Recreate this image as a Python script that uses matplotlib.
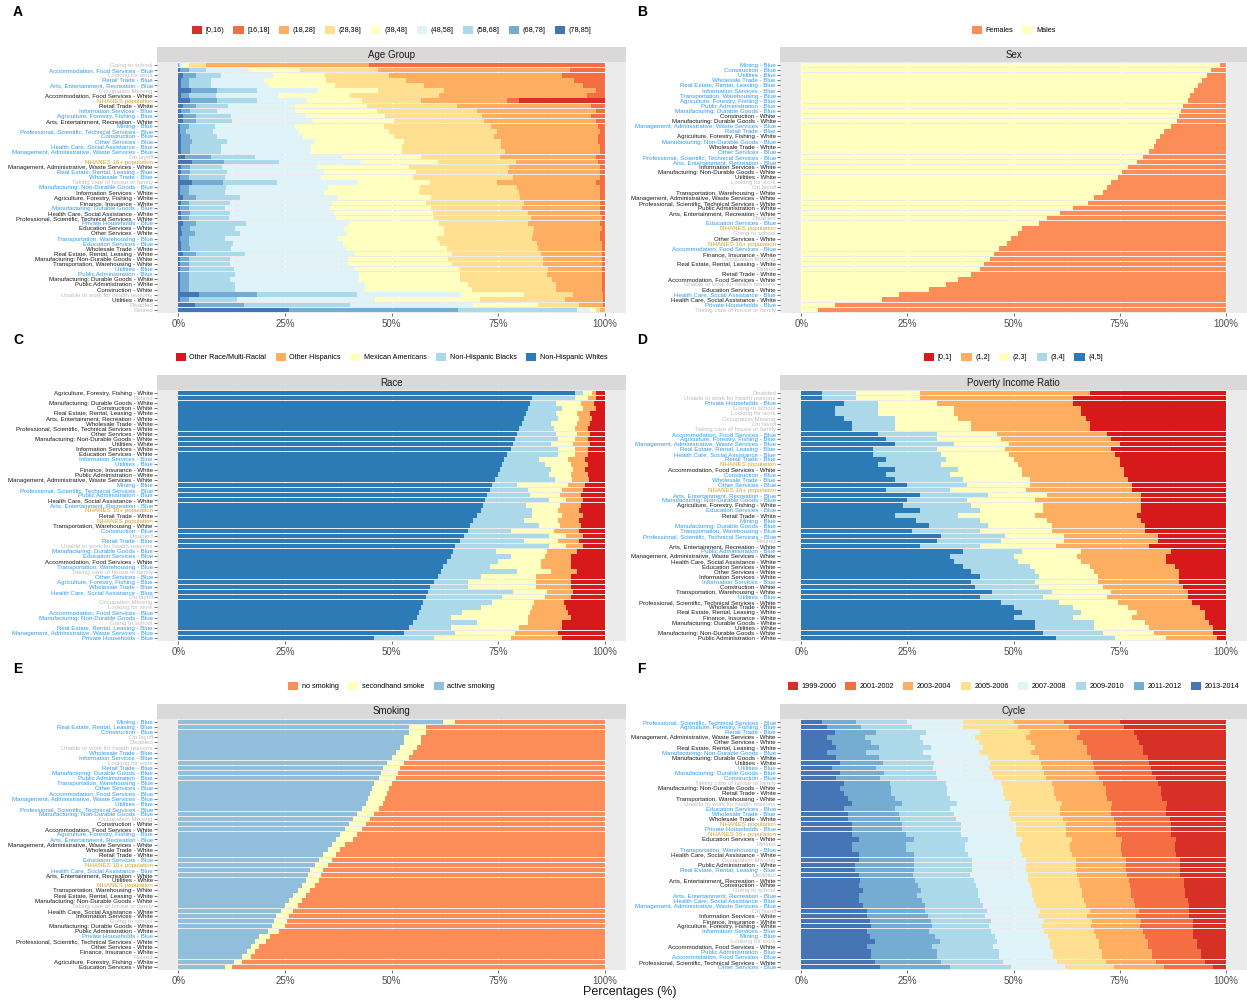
import numpy as np
import matplotlib
matplotlib.use("Agg")
import matplotlib.pyplot as plt
from matplotlib.patches import Patch

plt.rcParams['font.family'] = ['Liberation Sans', 'DejaVu Sans']

W, H = 1247, 1001

# ---------------- Panel A: Age Group ----------------
labels_A = ["Going to school", "Accommodation, Food Services - Blue", "Looking for work", "Retail Trade - Blue",
            "Arts, Entertainment, Recreation - Blue", "Occupation Missing", "Accommodation, Food Services - White",
            "NHANES population", "Retail Trade - White", "Information Services - Blue",
            "Agriculture, Forestry, Fishing - Blue", "Arts, Entertainment, Recreation - White", "Mining - Blue",
            "Professional, Scientific, Technical Services - Blue", "Construction - Blue", "Other Services - Blue",
            "Health Care, Social Assistance - Blue", "Management, Administrative, Waste Services - Blue", "On layoff",
            "NHANES 16+ population", "Management, Administrative, Waste Services - White",
            "Real Estate, Rental, Leasing - Blue", "Wholesale Trade - Blue", "Taking care of house or family",
            "Manufacturing: Non-Durable Goods - Blue", "Information Services - White",
            "Agriculture, Forestry, Fishing - White", "Finance, Insurance - White",
            "Manufacturing: Durable Goods - Blue", "Health Care, Social Assistance - White",
            "Professional, Scientific, Technical Services - White", "Private Households - Blue",
            "Education Services - White", "Other Services - White", "Transportation, Warehousing - Blue",
            "Education Services - Blue", "Wholesale Trade - White", "Real Estate, Rental, Leasing - White",
            "Manufacturing: Non-Durable Goods - White", "Transportation, Warehousing - White", "Utilities - Blue",
            "Public Administration - Blue", "Manufacturing: Durable Goods - White", "Public Administration - White",
            "Construction - White", "Unable to work for health reasons", "Utilities - White", "Disabled", "Retired"]
legend_A = ["[0,16)", "[16,18]", "(18,28]", "(28,38]", "(38,48]", "(48,58]", "(58,68]", "(68,78]", "(78,85]"]
age_0_16 = [0, 0, 0, 0, 0, 0, 0, 22, 0, 0, 0, 0, 0, 0, 0, 0, 0, 0, 0, 0, 0, 0, 0, 0, 0, 0, 0, 0, 0, 0, 0, 0, 0, 0, 0,
            0, 0, 0, 0, 0, 0, 0, 0, 0, 0, 0, 0, 0, 0]
age_16_18 = [55, 8, 10, 7, 5, 2, 4, 3, 3, 2, 3, 2, 1.5, 1, 1.5, 1.5, 1, 1, 2, 1.5, 1, 1, 1, 2, 1, 1, 1, 1, 1, 1, 0.5,
             1, 0.5, 1, 1, 0.5, 0.5, 0.5, 0.5, 0.5, 0.5, 0.5, 0.5, 0.5, 0.5, 0.5, 0.3, 0.3, 0]
age_18_28 = [38, 45, 40, 38, 36, 35, 33, 22, 30, 26, 25, 25, 24, 23, 23, 22, 22, 21, 22, 18, 20, 20, 19, 22, 18, 18,
             18, 17, 17, 16, 16, 16, 15, 15, 15, 15, 14, 14, 13, 13, 12, 12, 11, 10, 10, 7, 8, 6, 1]
age_28_38 = [4, 18, 15, 18, 20, 15, 20, 15, 20, 22, 22, 20, 24, 24, 22, 22, 22, 23, 18, 17, 22, 20, 22, 15, 21, 22,
             20, 22, 20, 21, 22, 20, 20, 20, 21, 22, 20, 20, 21, 20, 20, 19, 20, 19, 18, 12, 18, 10, 1]
age_38_48 = [1.5, 12, 12, 14, 15, 14, 16, 14, 16, 18, 18, 18, 20, 20, 20, 20, 20, 20, 18, 17, 20, 20, 20, 16, 20, 21,
             21, 21, 22, 22, 22, 20, 22, 22, 22, 22, 22, 22, 22, 23, 23, 22, 22, 22, 23, 15, 22, 16, 1.5]
age_48_58 = [0.5, 10, 12, 12, 13, 14, 14, 13, 15, 17, 17, 18, 18, 19, 19, 20, 20, 20, 20, 18, 21, 21, 21, 18, 22, 22,
             22, 23, 23, 23, 24, 23, 24, 24, 25, 25, 25, 25, 26, 26, 27, 27, 28, 28, 28, 25, 29, 30, 3]
age_58_68 = [0.3, 4, 6, 5, 5, 9, 6, 10, 7, 6, 8, 8, 6, 6, 6, 8, 7, 7, 10, 12, 7, 8, 8, 12, 8, 8, 10, 9, 8, 9, 9, 11,
             10, 10, 8, 10, 9, 11, 9, 9, 10, 10, 9, 10, 10, 24, 10, 26, 28]
age_68_78 = [0.2, 2, 3, 2, 2, 6, 2, 7, 3, 2, 3, 3, 2, 1.5, 2, 2.5, 2, 2, 6, 7, 2, 2, 2, 7, 2, 2, 3, 2, 2, 2, 2, 3, 2, 3,
             2, 2, 2, 3, 2, 2, 2, 2, 2, 2, 2, 14, 2, 12, 40]
age_78_85 = [0, 0.5, 1, 0.5, 0.5, 3, 0.5, 3, 1, 0.5, 1, 1, 0.3, 0.3, 0.5, 0.5, 0.5, 0.5, 1.5, 3, 0.5, 0.5, 0.3, 3, 0.3,
             0.3, 1, 0.5, 0.3, 0.5, 0.5, 1, 0.5, 0.8, 0.3, 0.5, 0.5, 1, 0.3, 0.3, 0.3, 0.3, 0.3, 0.3, 0.3, 5, 0.3, 4,
             26]

# ---------------- Panel B: Sex ----------------
labels_B = ["Mining - Blue", "Construction - Blue", "Utilities - Blue", "Wholesale Trade - Blue",
            "Real Estate, Rental, Leasing - Blue", "Information Services - Blue", "Transportation, Warehousing - Blue",
            "Agriculture, Forestry, Fishing - Blue", "Public Administration - Blue",
            "Manufacturing: Durable Goods - Blue", "Construction - White", "Manufacturing: Durable Goods - White",
            "Management, Administrative, Waste Services - Blue", "Retail Trade - Blue",
            "Agriculture, Forestry, Fishing - White", "Manufacturing: Non-Durable Goods - Blue",
            "Wholesale Trade - White", "Other Services - Blue", "Professional, Scientific, Technical Services - Blue",
            "Arts, Entertainment, Recreation - Blue", "Information Services - White",
            "Manufacturing: Non-Durable Goods - White", "Utilities - White", "Looking for work", "On layoff",
            "Transportation, Warehousing - White", "Management, Administrative, Waste Services - White",
            "Professional, Scientific, Technical Services - White", "Public Administration - White",
            "Arts, Entertainment, Recreation - White", "Disabled", "Education Services - Blue", "NHANES population",
            "Going to school", "Other Services - White", "NHANES 16+ population",
            "Accommodation, Food Services - Blue", "Finance, Insurance - White", "Occupation Missing",
            "Real Estate, Rental, Leasing - White", "Retired", "Retail Trade - White",
            "Accommodation, Food Services - White", "Unable to work for health reasons", "Education Services - White",
            "Health Care, Social Assistance - Blue", "Health Care, Social Assistance - White",
            "Private Households - Blue", "Taking care of house or family"]
legend_B = ["Females", "Males"]
sex_females = [1.4, 3.5, 4.5, 5.5, 6.5, 7.5, 8.5, 9, 10, 10.5, 11, 11.5, 13, 14.5, 15.5, 16.5, 17, 18, 19.5, 21, 23,
               24.5, 25.5, 27, 28, 29, 31, 32.5, 36, 39, 42, 44, 48, 49, 50.5, 51.5, 53.5, 54.5, 55.5, 57, 58, 60, 63,
               66, 70, 77, 81, 92, 96]
sex_males = [98.6, 96.5, 95.5, 94.5, 93.5, 92.5, 91.5, 91, 90, 89.5, 89, 88.5, 87, 85.5, 84.5, 83.5, 83, 82, 80.5,
             79, 77, 75.5, 74.5, 73, 72, 71, 69, 67.5, 64, 61, 58, 56, 52, 51, 49.5, 48.5, 46.5, 45.5, 44.5, 43, 42,
             40, 37, 34, 30, 23, 19, 8, 4]

# ---------------- Panel C: Race ----------------
labels_C = ["Agriculture, Forestry, Fishing - White", "Retired", "Manufacturing: Durable Goods - White",
            "Construction - White", "Real Estate, Rental, Leasing - White", "Arts, Entertainment, Recreation - White",
            "Wholesale Trade - White", "Professional, Scientific, Technical Services - White",
            "Other Services - White", "Manufacturing: Non-Durable Goods - White", "Utilities - White",
            "Information Services - White", "Education Services - White", "Information Services - Blue",
            "Utilities - Blue", "Finance, Insurance - White", "Public Administration - White",
            "Management, Administrative, Waste Services - White", "Mining - Blue",
            "Professional, Scientific, Technical Services - Blue", "Public Administration - Blue",
            "Health Care, Social Assistance - White", "Arts, Entertainment, Recreation - Blue",
            "NHANES 16+ population", "Retail Trade - White", "NHANES population",
            "Transportation, Warehousing - White", "Construction - Blue", "Disabled", "Retail Trade - Blue",
            "Unable to work for health reasons", "Manufacturing: Durable Goods - Blue", "Education Services - Blue",
            "Accommodation, Food Services - White", "Transportation, Warehousing - Blue",
            "Taking care of house or family", "Other Services - Blue", "Agriculture, Forestry, Fishing - Blue",
            "Wholesale Trade - Blue", "Health Care, Social Assistance - Blue", "On layoff", "Occupation Missing",
            "Looking for work", "Accommodation, Food Services - Blue", "Manufacturing: Non-Durable Goods - Blue",
            "Going to school", "Real Estate, Rental, Leasing - Blue",
            "Management, Administrative, Waste Services - Blue", "Private Households - Blue"]
legend_C = ["Other Race/Multi-Racial", "Other Hispanics", "Mexican Americans", "Non-Hispanic Blacks",
            "Non-Hispanic Whites"]
race_other = [2, 2, 2.5, 2, 3.5, 3, 3.5, 4, 3.5, 4, 3.5, 4, 4, 4.5, 4, 4.5, 4, 3.6, 4.5, 5, 5.5, 5, 5.5, 6, 5, 6, 5.5,
              6, 5, 6, 5, 6.5, 8, 8, 8, 6.5, 8, 8, 8, 7.5, 8, 9.5, 9, 8.5, 8, 10, 10, 11, 10]
race_oth_hisp = [1, 2, 3, 3, 3, 3, 3, 3, 3, 3, 4, 3, 3, 4, 4, 3, 4, 4, 4, 5, 5, 4, 5, 5, 5, 5, 5, 6, 4, 5, 4, 7, 6, 7,
                 7, 6, 8, 8, 8, 6, 6, 7, 8, 9, 10, 8, 10, 10, 12]
race_mexican = [2, 3, 6, 5, 5, 5, 6, 5, 5, 4, 5, 4, 4, 7, 6, 5, 5, 4, 12, 8, 7, 4, 8, 6, 7, 8, 5, 10, 4, 8, 4, 12, 8,
                10, 12, 8, 13, 16, 16, 8, 10, 10, 12, 16, 18, 12, 16, 14, 18]
race_black = [2, 10, 6, 8, 7, 8, 7, 8, 9, 10, 9, 11, 12, 8, 10, 12, 12, 14, 6, 9, 10, 15, 10, 12, 13, 12, 16, 10, 20,
              15, 22, 10, 14, 12, 11, 18, 10, 8, 9, 20, 18, 16, 14, 10, 8, 15, 10, 12, 14]
race_white = [93, 83, 82.5, 82, 81.5, 81, 80.5, 80, 79.5, 79, 78.5, 78, 77, 76.5, 76, 75.5, 75, 74, 73.5, 73, 72.5,
              72, 71.5, 71, 70, 69, 68.5, 68, 67, 66, 65, 64.5, 64, 63, 62, 61.5, 61, 60, 59, 58.5, 58, 57.5, 57,
              56.5, 56, 55, 54, 53, 46]

# ---------------- Panel D: Poverty Income Ratio ----------------
labels_D = ["Disabled", "Unable to work for health reasons", "Private Households - Blue", "Going to school",
            "Looking for work", "Occupation Missing", "On layoff", "Taking care of house or family",
            "Accommodation, Food Services - Blue", "Agriculture, Forestry, Fishing - Blue",
            "Management, Administrative, Waste Services - Blue", "Real Estate, Rental, Leasing - Blue",
            "Health Care, Social Assistance - Blue", "Retail Trade - Blue", "NHANES population",
            "Accommodation, Food Services - White", "Construction - Blue", "Wholesale Trade - Blue",
            "Other Services - Blue", "NHANES 16+ population", "Arts, Entertainment, Recreation - Blue",
            "Manufacturing: Non-Durable Goods - Blue", "Agriculture, Forestry, Fishing - White",
            "Education Services - Blue", "Retail Trade - White", "Mining - Blue",
            "Manufacturing: Durable Goods - Blue", "Transportation, Warehousing - Blue",
            "Professional, Scientific, Technical Services - Blue", "Retired",
            "Arts, Entertainment, Recreation - White", "Public Administration - Blue",
            "Management, Administrative, Waste Services - White", "Health Care, Social Assistance - White",
            "Education Services - White", "Other Services - White", "Information Services - White",
            "Information Services - Blue", "Construction - White", "Transportation, Warehousing - White",
            "Utilities - Blue", "Professional, Scientific, Technical Services - White", "Wholesale Trade - White",
            "Real Estate, Rental, Leasing - White", "Finance, Insurance - White",
            "Manufacturing: Durable Goods - White", "Utilities - White", "Manufacturing: Non-Durable Goods - White",
            "Public Administration - White"]
legend_D = ["[0,1]", "(1,2]", "(2,3]", "(3,4]", "(4,5]"]
pir_0_1 = [32, 36, 36, 34, 34, 33, 32, 32, 28, 27, 25, 27, 26, 25, 25, 24, 24, 23, 22, 22, 20, 20, 20, 20, 21, 20, 19,
           19, 16, 16, 18, 13, 14, 14, 12, 11, 11, 11, 10, 9, 9, 8, 6, 5, 5, 4, 3, 3, 2]
pir_1_2 = [40, 36, 32, 30, 30, 30, 28, 28, 26, 26, 26, 25, 25, 25, 24, 24, 24, 23, 24, 25, 22, 25, 23, 23, 24, 22, 22,
           22, 22, 22, 22, 21, 21, 20, 20, 20, 19, 19, 19, 18, 19, 18, 17, 16, 17, 15, 15, 14, 12]
pir_2_3 = [15, 15, 14, 18, 18, 15, 18, 18, 14, 15, 13, 16, 16, 16, 18, 15, 17, 16, 15, 18, 14, 16, 17, 15, 18, 16, 15,
           17, 14, 15, 18, 14, 15, 15, 14, 14, 14, 15, 15, 14, 15, 14, 13, 13, 14, 12, 13, 12, 12]
pir_3_4 = [8, 8, 8, 10, 10, 12, 10, 10, 14, 12, 14, 15, 16, 14, 15, 15, 15, 16, 14, 15, 16, 14, 16, 14, 15, 15, 14,
           16, 15, 15, 14, 14, 15, 15, 16, 15, 14, 15, 15, 14, 15, 14, 14, 14, 14, 14, 14, 14, 14]
pir_4_5 = [5, 5, 10, 8, 8, 10, 12, 12, 18, 20, 22, 17, 17, 20, 18, 22, 20, 22, 25, 20, 28, 25, 24, 28, 22, 27, 30, 26,
           33, 32, 28, 38, 35, 36, 38, 40, 42, 40, 41, 45, 42, 48, 50, 52, 50, 55, 55, 57, 60]

# ---------------- Panel E: Smoking ----------------
labels_E = ["Mining - Blue", "Real Estate, Rental, Leasing - Blue", "Construction - Blue", "On layoff", "Disabled",
            "Unable to work for health reasons", "Wholesale Trade - Blue", "Information Services - Blue",
            "Looking for work", "Retail Trade - Blue", "Manufacturing: Durable Goods - Blue",
            "Public Administration - Blue", "Transportation, Warehousing - Blue", "Other Services - Blue",
            "Accommodation, Food Services - Blue", "Management, Administrative, Waste Services - Blue",
            "Utilities - Blue", "Professional, Scientific, Technical Services - Blue",
            "Manufacturing: Non-Durable Goods - Blue", "Occupation Missing", "Construction - White",
            "Accommodation, Food Services - White", "Agriculture, Forestry, Fishing - Blue",
            "Arts, Entertainment, Recreation - Blue", "Management, Administrative, Waste Services - White",
            "Wholesale Trade - White", "Retail Trade - White", "Education Services - Blue", "NHANES 16+ population",
            "Health Care, Social Assistance - Blue", "Arts, Entertainment, Recreation - White", "Utilities - White",
            "NHANES population", "Transportation, Warehousing - White", "Real Estate, Rental, Leasing - White",
            "Manufacturing: Non-Durable Goods - White", "Taking care of house or family",
            "Health Care, Social Assistance - White", "Information Services - White", "Going to school",
            "Manufacturing: Durable Goods - White", "Public Administration - White", "Private Households - Blue",
            "Professional, Scientific, Technical Services - White", "Other Services - White",
            "Finance, Insurance - White", "Retired", "Agriculture, Forestry, Fishing - White",
            "Education Services - White"]
legend_E = ["no smoking", "secondhand smoke", "active smoking"]
smk_no = [35, 42, 42, 43, 43, 44, 45, 46, 47, 48, 48.5, 49, 50, 50.5, 51, 51.5, 52, 53, 54, 55, 56, 57, 58, 59, 61,
          62, 63, 64, 65, 66, 66.5, 67, 68, 69, 70, 71, 72, 73, 74, 74.5, 75, 76.5, 78.5, 79.5, 81, 82, 83, 85, 87.5]
smk_second = [3, 4, 4, 4, 4, 4, 4, 4, 4, 4, 4, 4, 4, 4, 4, 4, 4, 4, 4, 4, 4, 4, 4, 4, 3, 3, 3, 3, 3, 3, 3, 3, 3, 3, 3,
              3, 3, 3, 3, 3, 3, 2.5, 2.5, 2.5, 2, 2, 2, 2, 1.5]
smk_active = [62, 54, 54, 53, 53, 52, 51, 50, 49, 48, 47.5, 47, 46, 45.5, 45, 44.5, 44, 43, 42, 41, 40, 39, 38, 37,
              36, 35, 34, 33, 32, 31, 30.5, 30, 29, 28, 27, 26, 25, 24, 23, 22.5, 22, 21, 19, 18, 17, 16, 15, 13, 11]

# ---------------- Panel F: Cycle ----------------
labels_F = ["Professional, Scientific, Technical Services - Blue", "Agriculture, Forestry, Fishing - Blue",
            "Retail Trade - Blue", "Management, Administrative, Waste Services - White", "Other Services - White",
            "Real Estate, Rental, Leasing - White", "Manufacturing: Non-Durable Goods - Blue",
            "Manufacturing: Durable Goods - White", "Utilities - White", "Utilities - Blue",
            "Manufacturing: Durable Goods - Blue", "Construction - Blue", "Taking care of house or family",
            "Manufacturing: Non-Durable Goods - White", "Retail Trade - White", "Transportation, Warehousing - White",
            "Unable to work for health reasons", "Education Services - Blue", "Wholesale Trade - Blue",
            "Wholesale Trade - White", "NHANES population", "Private Households - Blue", "NHANES 16+ population",
            "Education Services - White", "Retired", "Transportation, Warehousing - Blue",
            "Health Care, Social Assistance - White", "Occupation Missing", "Public Administration - White",
            "Real Estate, Rental, Leasing - Blue", "Disabled", "Arts, Entertainment, Recreation - White",
            "Construction - White", "Going to school", "Arts, Entertainment, Recreation - Blue",
            "Health Care, Social Assistance - Blue", "Management, Administrative, Waste Services - Blue", "On layoff",
            "Information Services - White", "Finance, Insurance - White", "Agriculture, Forestry, Fishing - White",
            "Information Services - Blue", "Mining - Blue", "Looking for work",
            "Accommodation, Food Services - White", "Public Administration - Blue",
            "Accommodation, Food Services - Blue", "Professional, Scientific, Technical Services - White",
            "Other Services - Blue"]
legend_F = ["1999-2000", "2001-2002", "2003-2004", "2005-2006", "2007-2008", "2009-2010", "2011-2012", "2013-2014"]
cyc_1999 = [25, 24, 22, 21, 20, 19, 19, 18, 18, 17, 17, 16, 16, 15, 15, 15, 14, 14, 14, 13, 13, 13, 13, 12, 12, 12,
            12, 11, 11, 11, 11, 10, 10, 10, 10, 9, 9, 9, 9, 8, 8, 8, 8, 7, 7, 6, 6, 5, 3]
cyc_2001 = [13, 13, 13, 14, 13, 13, 13, 13, 13, 13, 13, 13, 13, 13, 13, 13, 13, 13, 13, 13, 13, 13, 13, 13, 13, 13,
            13, 13, 13, 13, 13, 13, 13, 13, 13, 13, 13, 12, 13, 13, 13, 12, 12, 12, 12, 12, 12, 12, 12]
cyc_2003 = [12, 12, 12, 12, 12, 12, 13, 12, 12, 12, 12, 12, 12, 12, 12, 12, 12, 12, 12, 12, 12, 12, 12, 12, 12, 12,
            12, 12, 12, 12, 12, 12, 12, 12, 12, 12, 12, 12, 12, 12, 12, 12, 12, 12, 12, 12, 12, 12, 12]
cyc_2005 = [12, 13, 12, 12, 12, 12, 12, 12, 12, 12, 12, 12, 12, 12, 12, 12, 12, 12, 12, 12, 12, 12, 12, 12, 12, 12,
            12, 12, 12, 12, 12, 12, 12, 12, 12, 12, 12, 12, 12, 12, 12, 12, 12, 12, 12, 12, 12, 12, 12]
cyc_2007 = [13, 12, 13, 13, 13, 12, 13, 13, 13, 13, 13, 13, 13, 13, 13, 13, 13, 14, 13, 13, 13, 13, 13, 13, 13, 13,
            13, 13, 13, 13, 14, 13, 13, 13, 13, 13, 13, 13, 13, 13, 13, 13, 13, 13, 14, 13, 13, 13, 13]
cyc_2009 = [12, 12, 12, 13, 12, 12, 13, 12, 12, 13, 12, 13, 13, 13, 13, 13, 13, 13, 13, 13, 14, 14, 13, 13, 14, 14,
            13, 14, 14, 14, 14, 14, 14, 14, 15, 14, 14, 15, 14, 15, 14, 15, 15, 14, 15, 15, 15, 15, 15]
cyc_2011 = [8, 8, 10, 9, 9, 10, 9, 10, 10, 10, 10, 10, 11, 12, 11, 11, 12, 12, 12, 12, 12, 12, 13, 13, 13, 13, 13,
            13, 14, 14, 13, 13, 14, 14, 14, 15, 15, 14, 15, 15, 15, 15, 16, 16, 16, 16, 16, 16, 17]
cyc_2013 = [5, 6, 8, 6, 7, 8, 6, 8, 9, 7, 9, 8, 10, 9, 10, 11, 12, 10, 11, 11, 12, 12, 12, 14, 12, 12, 14, 14, 13, 13,
            14, 14, 14, 15, 14, 14, 15, 16, 16, 17, 17, 16, 17, 18, 16, 17, 17, 18, 19]

# ---------------- styling ----------------
PAL9 = ["#d73027", "#f46d43", "#fdae61", "#fee090", "#ffffbf", "#e0f3f8", "#abd9e9", "#74add1", "#4575b4"]
PAL8 = ["#d73027", "#f46d43", "#fdae61", "#fee090", "#e0f3f8", "#abd9e9", "#74add1", "#4575b4"]
PAL5 = ["#d7191c", "#fdae61", "#ffffbf", "#abd9e9", "#2c7bb6"]
PAL3 = ["#fc8d59", "#ffffbf", "#91bfdb"]


def label_color(lab):
    if lab.endswith("- Blue"):
        return "#2b9af3"
    if lab.endswith("- White"):
        return "#1a1a1a"
    if lab.startswith("NHANES"):
        return "#d4a02c"
    return "#bdbdbd"


fig = plt.figure(figsize=(W / 100, H / 100), dpi=100)


def fx(px):
    return px / W


def fy(py):
    return 1 - py / H


def panel(x0, x1, ytop, ybot, title, labels, series, colors, legend, letter, leg_y, letter_x):
    ax = fig.add_axes([fx(x0), fy(ybot), fx(x1 - x0), (ybot - ytop) / H])
    ax.set_facecolor("#ebebeb")
    n = len(labels)
    ypos = np.arange(n, 0, -1)
    arrs = [np.asarray(s, dtype=float) for s in series]
    tot = np.sum(arrs, axis=0)
    left = np.zeros(n)
    # leftmost is the last legend entry
    for arr, col in zip(arrs[::-1], colors[::-1]):
        w = arr / tot * 100
        ax.barh(ypos, w, left=left, height=0.9, color=col, linewidth=0, zorder=2)
        left += w
    ax.set_xlim(-5, 105)
    ax.set_ylim(0.4, n + 0.6)
    for gx in [0, 25, 50, 75, 100]:
        ax.axvline(gx, color="white", lw=0.8, zorder=1)
    for gx in [12.5, 37.5, 62.5, 87.5]:
        ax.axvline(gx, color="white", lw=0.4, zorder=1)
    ax.set_xticks([0, 25, 50, 75, 100])
    ax.set_xticklabels(["0%", "25%", "50%", "75%", "100%"], fontsize=7, color="#4d4d4d")
    ax.set_yticks(ypos)
    ax.set_yticklabels(labels, fontsize=4.4)
    for t, lab in zip(ax.get_yticklabels(), labels):
        t.set_color(label_color(lab))
    ax.tick_params(axis="y", length=2, width=0.5, color="#333333", pad=1)
    ax.tick_params(axis="x", length=2.5, width=0.5, color="#333333", pad=2)
    for sp in ax.spines.values():
        sp.set_visible(False)
    # strip
    sax = fig.add_axes([fx(x0), fy(ytop), fx(x1 - x0), 15 / H])
    sax.set_facecolor("#d9d9d9")
    sax.set_xticks([])
    sax.set_yticks([])
    for sp in sax.spines.values():
        sp.set_visible(False)
    sax.text(0.5, 0.5, title, ha="center", va="center", fontsize=7, color="#1a1a1a", transform=sax.transAxes)
    # legend
    handles = [Patch(facecolor=c, edgecolor="none") for c in colors]
    fig.legend(handles, legend, loc="center", bbox_to_anchor=(fx((x0 + x1) / 2), fy(leg_y)), ncol=len(legend),
               frameon=False, fontsize=5.2, handlelength=1.4, handleheight=1.4, handletextpad=0.5,
               columnspacing=1.3, borderpad=0)
    # letter
    fig.text(fx(letter_x), fy(ytop - 50), letter, fontsize=10, fontweight="bold", ha="left", va="center")
    return ax


panel(157, 626, 62, 313, "Age Group", labels_A,
      [age_0_16, age_16_18, age_18_28, age_28_38, age_38_48, age_48_58, age_58_68, age_68_78, age_78_85],
      PAL9, legend_A, "A", 30, 13)
panel(780, 1247, 62, 313, "Sex", labels_B, [sex_females, sex_males], PAL3[:2], legend_B, "B", 30, 637)
panel(157, 626, 390, 641, "Race", labels_C, [race_other, race_oth_hisp, race_mexican, race_black, race_white],
      PAL5, legend_C, "C", 357, 13)
panel(780, 1247, 390, 641, "Poverty Income Ratio", labels_D, [pir_0_1, pir_1_2, pir_2_3, pir_3_4, pir_4_5],
      PAL5, legend_D, "D", 357, 637)
panel(157, 626, 719, 970, "Smoking", labels_E, [smk_no, smk_second, smk_active], PAL3, legend_E, "E", 686, 13)
panel(780, 1247, 719, 970, "Cycle", labels_F,
      [cyc_1999, cyc_2001, cyc_2003, cyc_2005, cyc_2007, cyc_2009, cyc_2011, cyc_2013],
      PAL8, legend_F, "F", 686, 637)

fig.text(fx(630), fy(992), "Percentages (%)", ha="center", va="center", fontsize=9, color="#1a1a1a")

fig.savefig("out.png", dpi=100)
